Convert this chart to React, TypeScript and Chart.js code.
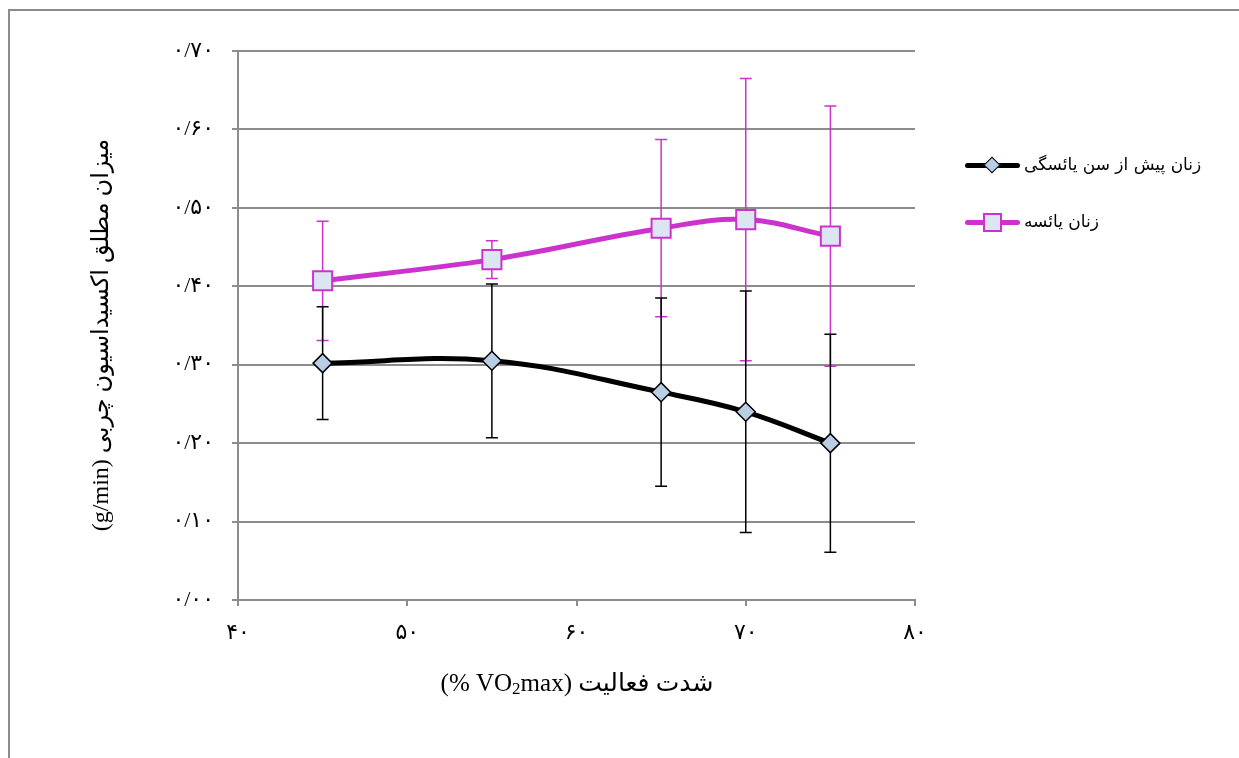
import React, { useEffect, useRef } from "react";
import { Chart, registerables } from "chart.js";

Chart.register(...registerables);

const xValues = [45, 55, 65, 70, 75];
const preMenopausal = [0.302, 0.305, 0.265, 0.24, 0.2];
const preMenopausalErr = [0.072, 0.098, 0.12, 0.154, 0.139];
const postMenopausal = [0.407, 0.434, 0.474, 0.485, 0.464];
const postMenopausalErr = [0.076, 0.024, 0.113, 0.18, 0.166];

const seriesNames = ["زنان پیش از سن یائسگی", "زنان یائسه"];
const yTitle = "میزان مطلق اکسیداسیون چربی (g/min)";
const xTitlePersian = "شدت فعالیت";

const BLACK = "#000000";
const PINK = "#CC33CC";
const GRID = "#8c8c8c";

const persianDigits = "۰۱۲۳۴۵۶۷۸۹";
const toPersian = (s: string) =>
  s.replace(/[0-9]/g, (d) => persianDigits[Number(d)]).replace(".", "/");

const errorSets = [
  { values: postMenopausal, errs: postMenopausalErr, color: PINK },
  { values: preMenopausal, errs: preMenopausalErr, color: BLACK },
];

const errorBarPlugin = {
  id: "errorBars",
  beforeDatasetsDraw(chart: any) {
    const { ctx, scales } = chart;
    const xs = scales.x;
    const ys = scales.y;
    ctx.save();
    ctx.lineWidth = 1.5;
    errorSets.forEach((set) => {
      ctx.strokeStyle = set.color;
      xValues.forEach((xv, i) => {
        const px = xs.getPixelForValue(xv);
        const top = ys.getPixelForValue(set.values[i] + set.errs[i]);
        const bot = ys.getPixelForValue(set.values[i] - set.errs[i]);
        ctx.beginPath();
        ctx.moveTo(px, top);
        ctx.lineTo(px, bot);
        ctx.moveTo(px - 6, top);
        ctx.lineTo(px + 6, top);
        ctx.moveTo(px - 6, bot);
        ctx.lineTo(px + 6, bot);
        ctx.stroke();
      });
    });
    ctx.restore();
  },
};

export default function App() {
  const ref = useRef<HTMLCanvasElement | null>(null);
  useEffect(() => {
    if (!ref.current) return;
    const tickFont = { family: "'Liberation Serif', 'DejaVu Sans', serif", size: 22 };
    const chart = new Chart(ref.current, {
      type: "line",
      data: {
        datasets: [
          {
            label: seriesNames[0],
            data: xValues.map((x, i) => ({ x, y: preMenopausal[i] })),
            borderColor: BLACK,
            borderWidth: 5,
            tension: 0.4,
            pointStyle: "rectRot",
            pointRadius: 9.5,
            pointBackgroundColor: "#B9CDE5",
            pointBorderColor: BLACK,
            pointBorderWidth: 1.5,
          },
          {
            label: seriesNames[1],
            data: xValues.map((x, i) => ({ x, y: postMenopausal[i] })),
            borderColor: PINK,
            borderWidth: 5,
            tension: 0.4,
            pointStyle: "rect",
            pointRadius: 13.5,
            pointBackgroundColor: "#DCE6F2",
            pointBorderColor: PINK,
            pointBorderWidth: 2,
          },
        ],
      },
      options: {
        animation: false,
        responsive: false,
        maintainAspectRatio: false,
        layout: { padding: { top: 43, right: 324, left: 0, bottom: 0 } },
        plugins: { legend: { display: false }, tooltip: { enabled: false } },
        scales: {
          x: {
            type: "linear",
            min: 40,
            max: 80,
            ticks: {
              stepSize: 10,
              padding: 14,
              color: "#000",
              font: tickFont,
              callback: (v: any) => toPersian(String(v)),
            },
            grid: { drawOnChartArea: false, drawTicks: true, tickLength: 6, color: GRID, lineWidth: 2 },
            border: { color: GRID, width: 2 },
            afterFit: (s: any) => {
              s.height = 158;
            },
          },
          y: {
            min: 0,
            max: 0.7,
            ticks: {
              stepSize: 0.1,
              padding: 18,
              color: "#000",
              font: tickFont,
              callback: (v: any) => toPersian(Number(v).toFixed(2)),
            },
            grid: { color: GRID, lineWidth: 2, tickLength: 6 },
            border: { color: GRID, width: 2 },
            afterFit: (s: any) => {
              s.width = 230;
            },
          },
        },
      },
      plugins: [errorBarPlugin],
    });
    return () => chart.destroy();
  }, []);

  const serif = "'Liberation Serif', 'DejaVu Sans', serif";
  return (
    <div style={{ position: "fixed", left: 0, top: 0, width: 1239, height: 758, overflow: "hidden", background: "#fff" }}>
      <div
        style={{
          position: "absolute",
          left: 8,
          top: 9,
          width: 1300,
          height: 800,
          border: "2px solid #8c8c8c",
        }}
      />
      <canvas ref={ref} width={1231} height={750} style={{ position: "absolute", left: 8, top: 8 }} />
      <div
        dir="rtl"
        style={{
          position: "absolute",
          left: 100 - 250,
          top: 335 - 15,
          width: 500,
          height: 30,
          lineHeight: "30px",
          textAlign: "center",
          transform: "rotate(-90deg)",
          fontFamily: serif,
          fontSize: 24,
          color: "#000",
          whiteSpace: "nowrap",
        }}
      >
        {yTitle}
      </div>
      <div
        dir="rtl"
        style={{
          position: "absolute",
          left: 577 - 250,
          top: 683 - 15,
          width: 500,
          height: 30,
          lineHeight: "30px",
          textAlign: "center",
          fontFamily: serif,
          fontSize: 25,
          color: "#000",
          whiteSpace: "nowrap",
        }}
      >
        {xTitlePersian} (VO<span style={{ fontSize: 17, verticalAlign: "-3px" }}>2</span>max %)
      </div>
      {[0, 1].map((i) => (
        <div key={i} style={{ position: "absolute", left: 965, top: (i === 0 ? 165 : 222) - 8, height: 16, width: 274 }}>
          <div
            style={{
              position: "absolute",
              left: 0,
              top: 5.5,
              width: 55,
              height: 5,
              borderRadius: 3,
              background: i === 0 ? BLACK : PINK,
            }}
          />
          {i === 0 ? (
            <div
              style={{
                position: "absolute",
                left: 21,
                top: 2,
                width: 12,
                height: 12,
                transform: "rotate(45deg)",
                background: "#B9CDE5",
                border: "1.5px solid #000",
                boxSizing: "border-box",
              }}
            />
          ) : (
            <div
              style={{
                position: "absolute",
                left: 18,
                top: -1,
                width: 19,
                height: 19,
                background: "#DCE6F2",
                border: "2px solid " + PINK,
                boxSizing: "border-box",
              }}
            />
          )}
          <div
            dir="rtl"
            style={{
              position: "absolute",
              left: 59,
              top: -5,
              fontFamily: "'DejaVu Sans', sans-serif",
              fontSize: 17,
              lineHeight: "24px",
              whiteSpace: "nowrap",
              color: "#000",
            }}
          >
            {seriesNames[i]}
          </div>
        </div>
      ))}
    </div>
  );
}
